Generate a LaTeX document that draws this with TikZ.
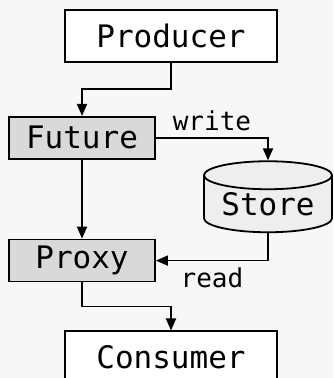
\documentclass[tikz,border=0pt]{standalone}
\usepackage{fontspec}
\setmonofont{DejaVu Sans Mono}
\usepackage{tikz}
\usetikzlibrary{shapes.geometric, arrows.meta, positioning, calc}

\definecolor{pagebg}{HTML}{F7F7F7}
\definecolor{datafill}{HTML}{D9D9D9}
\definecolor{storefill}{HTML}{EEEEEE}

\begin{document}
\begin{tikzpicture}[
	font=\ttfamily\fontsize{31}{36}\selectfont,
	line width=1.8pt,
	boxnode/.style={draw, rectangle, fill=white, inner sep=0pt, minimum width=212pt, minimum height=52pt},
	datanode/.style={draw, rectangle, fill=datafill, inner sep=0pt, minimum width=146pt, minimum height=42pt},
	storenode/.style={draw, cylinder, shape border rotate=90, shape aspect=0.3, fill=storefill, inner sep=0pt, minimum width=128pt, minimum height=71pt},
	edgelabel/.style={font=\ttfamily\fontsize{26}{30}\selectfont, inner sep=1pt},
	pointer/.style={-{Triangle[length=12pt, width=10pt]}, line width=1.8pt}
]

\useasboundingbox[fill=pagebg] (0,0) rectangle (333pt,378pt);

\node[boxnode] (producer) at (171pt,342pt) {Producer};
\node[datanode, below=53pt of producer, xshift=-89pt] (future) {Future};
\node[datanode, below=79pt of future] (proxy) {Proxy};
\node[boxnode, below=48pt of proxy, xshift=89pt] (consumer) {Consumer};
\node[storenode] (store) at ($(future)!.5!(proxy) + (186pt,-5pt)$) {Store};

\draw[pointer] (producer.south) |- ($(producer.south)!.5!(future.north)$) -| (future.north);
\draw[pointer] (future.east) -| (store.top) node[edgelabel, pos=.25, above=5pt] {write};
\draw[pointer] (future) -- (proxy);
\draw[pointer] (store.bottom) |- (proxy.east) node[edgelabel, pos=.75, below=5pt] {read};
\draw[pointer] (proxy.south) |- ($(proxy.south)!.5!(consumer.north)$) -| (consumer.north);

\end{tikzpicture}
\end{document}
